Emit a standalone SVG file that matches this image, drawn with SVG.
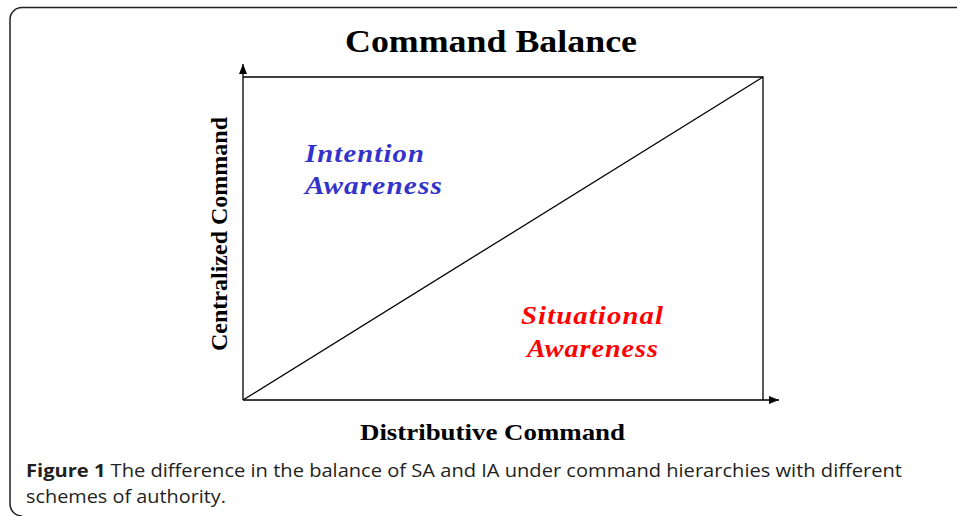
<svg xmlns="http://www.w3.org/2000/svg" width="957" height="516" viewBox="0 0 957 516">
<style>
.serif{font-family:"Liberation Serif","Times New Roman",serif;font-weight:bold}
.blue{fill:#3333cc;font-style:italic;font-size:26px;letter-spacing:1px}
.red{fill:#ff0000;font-style:italic;font-size:26px;letter-spacing:1px}
.cap{font-family:"Open Sans","Noto Sans",sans-serif;font-size:18px;fill:#231f20}
.ln{stroke:#000;stroke-width:1.3;fill:none}
</style>
<defs>
<marker id="ah" viewBox="0 0 10 10" refX="10" refY="5" markerWidth="10" markerHeight="10" markerUnits="userSpaceOnUse" orient="auto">
<path d="M0,1 L10,5 L0,9 Z" fill="#000"/>
</marker>
</defs>
<rect width="957" height="516" fill="#fff"/>
<path d="M957,7.5 H22 A12,12 0 0 0 10,19.5 V504 A12,12 0 0 0 22,516" fill="none" stroke="#231f20" stroke-width="1.5"/>
<text class="serif" x="345" y="52" font-size="31" textLength="292" lengthAdjust="spacingAndGlyphs">Command Balance</text>
<g id="connectors">
<line class="ln" x1="243" y1="400" x2="243" y2="64" marker-end="url(#ah)"/>
<line class="ln" x1="243" y1="400" x2="779" y2="400" marker-end="url(#ah)"/>
<polyline class="ln" points="243,77 763,77 763,400"/>
<line class="ln" x1="243" y1="400" x2="763" y2="77"/>
</g>
<g id="intention">
<text class="serif blue" x="305" y="162" textLength="120" lengthAdjust="spacingAndGlyphs">Intention</text>
<text class="serif blue" x="305" y="194" textLength="138" lengthAdjust="spacingAndGlyphs">Awareness</text>
</g>
<g id="situational">
<text class="serif red" x="521" y="324" textLength="143" lengthAdjust="spacingAndGlyphs">Situational</text>
<text class="serif red" x="527" y="357" textLength="132" lengthAdjust="spacingAndGlyphs">Awareness</text>
</g>
<text class="serif" transform="translate(227,234) rotate(-90)" font-size="24" text-anchor="middle">Centralized Command</text>
<text class="serif" x="360" y="440" font-size="24" textLength="265" lengthAdjust="spacingAndGlyphs">Distributive Command</text>
<text class="cap" x="26" y="477" textLength="876" lengthAdjust="spacingAndGlyphs"><tspan font-weight="bold">Figure 1</tspan> The difference in the balance of SA and IA under command hierarchies with different</text>
<text class="cap" x="26" y="503" textLength="200" lengthAdjust="spacingAndGlyphs">schemes of authority.</text>
</svg>
